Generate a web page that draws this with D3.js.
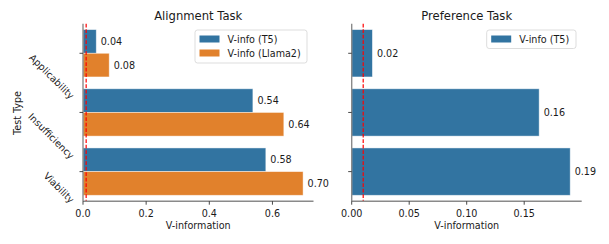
<!DOCTYPE html>
<html><head><meta charset="utf-8">
<script src="https://cdn.jsdelivr.net/npm/d3@7"></script>
<style>body{margin:0;background:#fff}text{font-family:"DejaVu Sans",sans-serif;fill:#1a1a1a}</style>
</head><body><svg id="c" width="609" height="244"></svg>
<script>
const categories = ["Applicability", "Insufficiency", "Viability"];
const alignT5 = [0.042, 0.538, 0.579];
const alignLlama2 = [0.083, 0.636, 0.697];
const prefT5 = [0.018, 0.163, 0.190];
const alignTicks = [0.0, 0.2, 0.4, 0.6];
const prefTicks = [0.00, 0.05, 0.10, 0.15];
const threshold = 0.01;
const seriesNames = ["V-info (T5)", "V-info (Llama2)"];
const colors = ["#3274a1", "#e1812c"];

const svg = d3.select("#c");
const FS = 9.6, plotTop = 23.7, plotBottom = 201.2;

function panel(opt) {
  const g = svg.append("g");
  const x = d3.scaleLinear().domain(opt.xDomain).range(opt.xRange);
  const y = d3.scaleBand().domain(categories).range([plotTop, plotBottom]).paddingInner(0.2).paddingOuter(0.1);
  const sub = d3.scaleBand().domain(opt.series.map((s, i) => i)).range([0, y.bandwidth()]);
  opt.series.forEach((vals, si) => {
    g.selectAll(null).data(vals).enter().append("rect")
      .attr("x", x(0)).attr("y", (d, i) => y(categories[i]) + sub(si))
      .attr("width", d => x(d) - x(0)).attr("height", sub.bandwidth())
      .attr("fill", colors[si]).attr("stroke", "rgba(255,255,255,0.55)").attr("stroke-width", 0.8);
    g.selectAll(null).data(vals).enter().append("text")
      .attr("x", d => x(d) + 4.5).attr("y", (d, i) => y(categories[i]) + sub(si) + sub.bandwidth() / 2)
      .attr("dominant-baseline", "central").attr("font-size", FS)
      .text(d => d3.format(".2f")(d));
  });
  g.append("line").attr("x1", x(threshold)).attr("x2", x(threshold))
    .attr("y1", plotTop).attr("y2", plotBottom).attr("stroke", "red").attr("stroke-width", 1.2)
    .attr("stroke-dasharray", "3.7,1.8");
  g.append("line").attr("x1", x(0)).attr("x2", x(0)).attr("y1", plotTop).attr("y2", plotBottom)
    .attr("stroke", "#8a8a8a").attr("stroke-width", 1.4);
  g.append("line").attr("x1", x(0)).attr("x2", opt.xRange[1]).attr("y1", plotBottom).attr("y2", plotBottom)
    .attr("stroke", "#8a8a8a").attr("stroke-width", 1.4);
  const xt = g.selectAll(null).data(opt.ticks).enter().append("g");
  xt.append("line").attr("x1", d => x(d)).attr("x2", d => x(d)).attr("y1", plotBottom).attr("y2", plotBottom + 3.5)
    .attr("stroke", "#333").attr("stroke-width", 0.9);
  xt.append("text").attr("x", d => x(d)).attr("y", 216.5).attr("text-anchor", "middle")
    .attr("font-size", FS).text(d => d3.format(opt.fmt)(d));
  categories.forEach(c => {
    const cy = y(c) + y.bandwidth() / 2;
    g.append("line").attr("x1", x(0) - 3.5).attr("x2", x(0)).attr("y1", cy).attr("y2", cy)
      .attr("stroke", "#333").attr("stroke-width", 0.9);
    if (opt.yLabels) {
      const t = g.append("text").attr("font-size", FS).attr("dominant-baseline", "central").text(c);
      const L = t.node().getComputedTextLength();
      const h = FS * 1.0, s = Math.SQRT1_2;
      const px = x(0) - 7 - L * s - (h / 2) * s;
      const py = cy + (h / 2) * s - 1;
      t.attr("transform", `translate(${px},${py}) rotate(45)`);
    }
  });
  g.append("text").attr("x", (opt.xRange[0] + opt.xRange[1]) / 2).attr("y", 228.5)
    .attr("text-anchor", "middle").attr("font-size", FS).text("V-information");
  g.append("text").attr("x", (opt.xRange[0] + opt.xRange[1]) / 2).attr("y", 19.5)
    .attr("text-anchor", "middle").attr("font-size", 11.6).text(opt.title);
  const lg = opt.legend;
  g.append("rect").attr("x", lg.x).attr("y", lg.y).attr("width", lg.w).attr("height", lg.h)
    .attr("rx", 2.5).attr("fill", "rgba(255,255,255,0.8)").attr("stroke", "#d9d9d9").attr("stroke-width", 0.9);
  opt.series.forEach((v, si) => {
    const ry = lg.y + 9 + si * 14;
    g.append("rect").attr("x", lg.x + 4.5).attr("y", ry - 3.5).attr("width", 20).attr("height", 7)
      .attr("fill", colors[si]);
    g.append("text").attr("x", lg.x + 32.5).attr("y", ry).attr("dominant-baseline", "central")
      .attr("font-size", FS).text(seriesNames[si]);
  });
}

panel({xDomain: [0, 0.73], xRange: [83, 313.5], series: [alignT5, alignLlama2], ticks: alignTicks,
  fmt: ".1f", yLabels: true, title: "Alignment Task", legend: {x: 195, y: 30, w: 112, h: 33}});
panel({xDomain: [0, 0.2], xRange: [351.7, 581.7], series: [prefT5], ticks: prefTicks,
  fmt: ".2f", yLabels: false, title: "Preference Task", legend: {x: 486.7, y: 30, w: 89.3, h: 18.5}});

svg.append("text").attr("transform", "translate(21,113) rotate(-90)").attr("text-anchor", "middle")
  .attr("font-size", FS).text("Test Type");
</script></body></html>
